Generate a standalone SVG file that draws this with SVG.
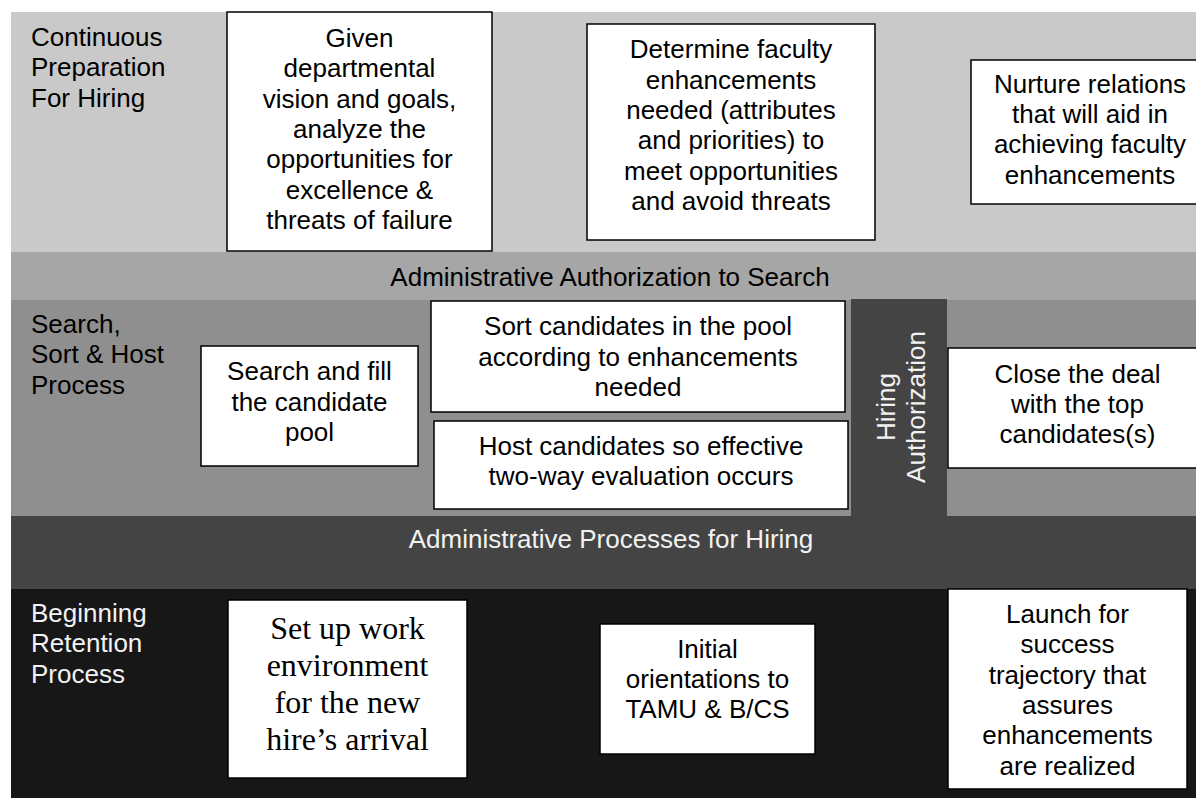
<svg xmlns="http://www.w3.org/2000/svg" width="1196" height="798" viewBox="0 0 1196 798">
<style>
.t{font-family:"Liberation Sans",Arial,sans-serif;font-size:26px;fill:#000}
.c{text-anchor:middle}
.w{fill:#f2f2f2}
.serif{font-family:"Liberation Serif","Times New Roman",serif;font-size:32px;fill:#000;text-anchor:middle}
.box{fill:#fff;stroke:#000;stroke-width:1.5}
</style>
<rect x="0" y="0" width="1196" height="798" fill="#fff"/>
<g id="bands">
<rect x="11" y="12" width="1185" height="240" fill="#c9c9c9"/>
<rect x="11" y="252" width="1185" height="48" fill="#a6a6a6"/>
<rect x="11" y="300" width="1185" height="216" fill="#8f8f8f"/>
<rect x="11" y="516" width="1185" height="73" fill="#444444"/>
<rect x="11" y="589" width="1185" height="209" fill="#171717"/>
<rect x="851" y="299" width="96" height="218" fill="#444444"/>
</g>
<g id="lane-labels">
<text class="t" x="31"><tspan x="31" y="46">Continuous</tspan><tspan x="31" y="76.3">Preparation</tspan><tspan x="31" y="106.6">For Hiring</tspan></text>
<text class="t c" x="610" y="286">Administrative Authorization to Search</text>
<text class="t"><tspan x="31" y="333">Search,</tspan><tspan x="31" y="363.3">Sort &amp; Host</tspan><tspan x="31" y="393.6">Process</tspan></text>
<text class="t c w" x="611" y="548">Administrative Processes for Hiring</text>
<text class="t w"><tspan x="31" y="622">Beginning</tspan><tspan x="31" y="652.3">Retention</tspan><tspan x="31" y="682.6">Process</tspan></text>
</g>
<g id="hiring-authorization">
<text class="t c w" transform="translate(895 407) rotate(-90)"><tspan x="0" y="0">Hiring</tspan><tspan x="0" y="30">Authorization</tspan></text>
</g>
<g id="n-analyze">
<rect class="box" x="227" y="12" width="265" height="239"/>
<text class="t c"><tspan x="359.5" y="47">Given</tspan><tspan x="359.5" y="77.3">departmental</tspan><tspan x="359.5" y="107.6">vision and goals,</tspan><tspan x="359.5" y="138">analyze the</tspan><tspan x="359.5" y="168.3">opportunities for</tspan><tspan x="359.5" y="198.6">excellence &amp;</tspan><tspan x="359.5" y="229">threats of failure</tspan></text>
</g>
<g id="n-determine">
<rect class="box" x="587" y="24" width="288" height="216"/>
<text class="t c"><tspan x="731" y="58.3">Determine faculty</tspan><tspan x="731" y="88.6">enhancements</tspan><tspan x="731" y="119">needed (attributes</tspan><tspan x="731" y="149.3">and priorities) to</tspan><tspan x="731" y="179.7">meet opportunities</tspan><tspan x="731" y="210">and avoid threats</tspan></text>
</g>
<g id="n-nurture">
<rect class="box" x="971" y="60" width="240" height="144"/>
<text class="t c"><tspan x="1090" y="92.7">Nurture relations</tspan><tspan x="1090" y="123">that will aid in</tspan><tspan x="1090" y="153.4">achieving faculty</tspan><tspan x="1090" y="183.7">enhancements</tspan></text>
</g>
<g id="n-search">
<rect class="box" x="201" y="346" width="217" height="120"/>
<text class="t c"><tspan x="309.5" y="380">Search and fill</tspan><tspan x="309.5" y="410.5">the candidate</tspan><tspan x="309.5" y="441">pool</tspan></text>
</g>
<g id="n-sort">
<rect class="box" x="431" y="301" width="414" height="111"/>
<text class="t c"><tspan x="638" y="335">Sort candidates in the pool</tspan><tspan x="638" y="365.5">according to enhancements</tspan><tspan x="638" y="396">needed</tspan></text>
</g>
<g id="n-host">
<rect class="box" x="434" y="421" width="414" height="88"/>
<text class="t c"><tspan x="641" y="454.5">Host candidates so effective</tspan><tspan x="641" y="485">two-way evaluation occurs</tspan></text>
</g>
<g id="n-close">
<rect class="box" x="948" y="348" width="260" height="120"/>
<text class="t c"><tspan x="1077.5" y="383">Close the deal</tspan><tspan x="1077.5" y="413">with the top</tspan><tspan x="1077.5" y="443">candidates(s)</tspan></text>
</g>
<g id="n-setup">
<rect class="box" x="228" y="600" width="239" height="178"/>
<text class="serif"><tspan x="347.5" y="639">Set up work</tspan><tspan x="347.5" y="676">environment</tspan><tspan x="347.5" y="713">for the new</tspan><tspan x="347.5" y="750">hire’s arrival</tspan></text>
</g>
<g id="n-initial">
<rect class="box" x="600" y="624" width="215" height="130"/>
<text class="t c"><tspan x="707.5" y="658">Initial</tspan><tspan x="707.5" y="688">orientations to</tspan><tspan x="707.5" y="718">TAMU &amp; B/CS</tspan></text>
</g>
<g id="n-launch">
<rect class="box" x="948" y="589" width="239" height="200"/>
<text class="t c"><tspan x="1067.5" y="623">Launch for</tspan><tspan x="1067.5" y="653.3">success</tspan><tspan x="1067.5" y="683.6">trajectory that</tspan><tspan x="1067.5" y="714">assures</tspan><tspan x="1067.5" y="744.3">enhancements</tspan><tspan x="1067.5" y="774.6">are realized</tspan></text>
</g>
<g id="connectors"></g>
</svg>
